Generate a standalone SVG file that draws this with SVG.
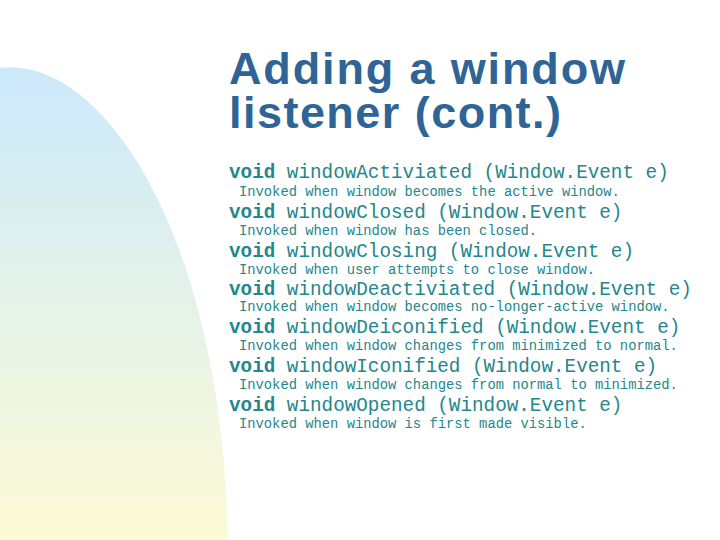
<svg xmlns="http://www.w3.org/2000/svg" width="720" height="540" viewBox="0 0 720 540">
<defs>
<linearGradient id="g" x1="0" y1="0" x2="0" y2="1">
<stop offset="0" stop-color="#cce9fb"/>
<stop offset="1" stop-color="#fdfbd6"/>
</linearGradient>
<style>
.t{font-family:"Liberation Sans",Arial,sans-serif;font-weight:bold;font-size:45px;fill:#2f6496}
.c{font-family:"Liberation Mono","Courier New",monospace;font-size:19.3px;fill:#23878c}
.c tspan{font-weight:bold}
.d{font-family:"Liberation Mono","Courier New",monospace;font-size:13.8px;fill:#23878c}
</style>
</defs>
<rect width="720" height="540" fill="#fff"/>
<path d="M0,540 L0,68 C100,55 222,230 228,540 Z" fill="url(#g)"/>
<text class="t" x="229" y="84" textLength="396">Adding a window</text>
<text class="t" x="229" y="128" textLength="332">listener (cont.)</text>
<g>
<text class="c" x="229" y="178"><tspan>void</tspan> windowActiviated (Window.Event e)</text>
<text class="d" x="239" y="196">Invoked when window becomes the active window.</text>
<text class="c" x="229" y="218"><tspan>void</tspan> windowClosed (Window.Event e)</text>
<text class="d" x="239" y="235">Invoked when window has been closed.</text>
<text class="c" x="229" y="257"><tspan>void</tspan> windowClosing (Window.Event e)</text>
<text class="d" x="239" y="274">Invoked when user attempts to close window.</text>
<text class="c" x="229" y="295"><tspan>void</tspan> windowDeactiviated (Window.Event e)</text>
<text class="d" x="239" y="311">Invoked when window becomes no-longer-active window.</text>
<text class="c" x="229" y="333"><tspan>void</tspan> windowDeiconified (Window.Event e)</text>
<text class="d" x="239" y="350">Invoked when window changes from minimized to normal.</text>
<text class="c" x="229" y="372"><tspan>void</tspan> windowIconified (Window.Event e)</text>
<text class="d" x="239" y="389">Invoked when window changes from normal to minimized.</text>
<text class="c" x="229" y="411"><tspan>void</tspan> windowOpened (Window.Event e)</text>
<text class="d" x="239" y="428">Invoked when window is first made visible.</text>
</g>
</svg>
